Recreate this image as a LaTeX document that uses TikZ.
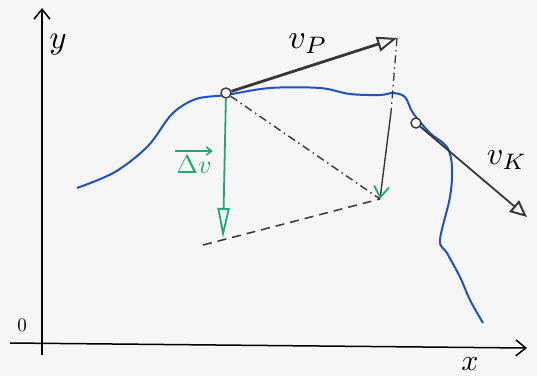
\documentclass[tikz,border=0pt]{standalone}
\usetikzlibrary{arrows.meta}
\definecolor{curveblue}{RGB}{30,80,200}
\definecolor{vgreen}{RGB}{30,170,110}
\definecolor{vgray}{RGB}{55,55,55}
\definecolor{paper}{RGB}{246,246,247}
\begin{document}
\begin{tikzpicture}[x=1pt,y=-1pt,
  axis/.style={line width=1.5pt,-{Straight Barb[length=10pt,width=16pt]}},
  circ/.style={circle,draw=vgray,line width=1.4pt,minimum size=10pt,inner sep=0pt,fill=paper},
  lbl/.style={inner sep=1pt}]
\useasboundingbox (0,0) rectangle (537,376);
\fill[paper] (0,0) rectangle (537,376);
% axes
\coordinate (yb) at (42,355);
\coordinate (yt) at (42,8);
\coordinate (xl) at (10,343);
\coordinate (xr) at (527,348);
\draw[axis] (yb) -- (yt);
\draw[axis] (xl) -- (xr);
\node[lbl,scale=3.3] (ylab) at (58,45) {$y$};
\node[lbl,scale=1.9] (olab) at (22,325) {$0$};
\node[lbl,scale=3] (xlab) at (470,364) {$x$};
% blue curve
\draw[curveblue,line width=2pt] plot[smooth,tension=0.55] coordinates {
 (77,188) (115,172) (148,146) (172,114) (196,99) (226,95) (270,88) (320,88) (350,94)
 (380,95) (393,93) (405,97) (413,113) (430,133) (447,147) (452,167) (450,197)
 (440,240) (447,253) (460,277) (470,300) (483,323)};
% points
\node[circ] (P) at (226,93) {};
\node[circ] (K) at (416,123) {};
\coordinate (Ptip) at (397,38);
\coordinate (Ktip) at (527,217);
\coordinate (D) at (380,199);
\coordinate (Vm) at (391,112);
\coordinate (Dv) at (223,238);
\coordinate (L) at (203,245);
% v_P
\draw[vgray,line width=2.8pt,-{Triangle[open,length=20pt,width=15pt,line width=2pt]}] (P) -- (Ptip);
\node[lbl,scale=3.4] (vP) at (308,44) {$v_P$};
% v_K
\draw[vgray,line width=1.8pt,-{Triangle[length=17pt,width=15pt,fill=paper,line width=2pt]}] (K) -- (Ktip);
\node[lbl,scale=3.2] (vK) at (507,160) {$v_K$};
% construction lines
\draw[vgray,line width=1.3pt,dash pattern=on 8pt off 4pt on 1.5pt off 4pt] (Ptip) -- (Vm);
\draw[vgray,line width=1.4pt,-{Straight Barb[color=vgreen,line width=1.8pt,length=11pt,width=15pt]}] (Vm) -- (D);
\draw[vgray,line width=1.4pt,dash pattern=on 8pt off 4pt on 1.5pt off 4pt] (P) -- (D);
\draw[vgray,line width=1.5pt,dash pattern=on 9pt off 6pt] (L) -- (D);
% delta v
\draw[vgreen,line width=1.8pt,-{Triangle[open,length=30pt,width=12pt,line width=1.8pt]}] (P) -- (Dv);
\node[lbl,scale=2.6,text=vgreen] (dv) at (194,165) {$\Delta v$};
\draw[vgreen,line width=1.6pt,-{Straight Barb[length=5pt,width=8pt]}] ([xshift=2pt,yshift=2pt]dv.north west) -- ([xshift=-2pt,yshift=2pt]dv.north east);
\end{tikzpicture}
\end{document}
